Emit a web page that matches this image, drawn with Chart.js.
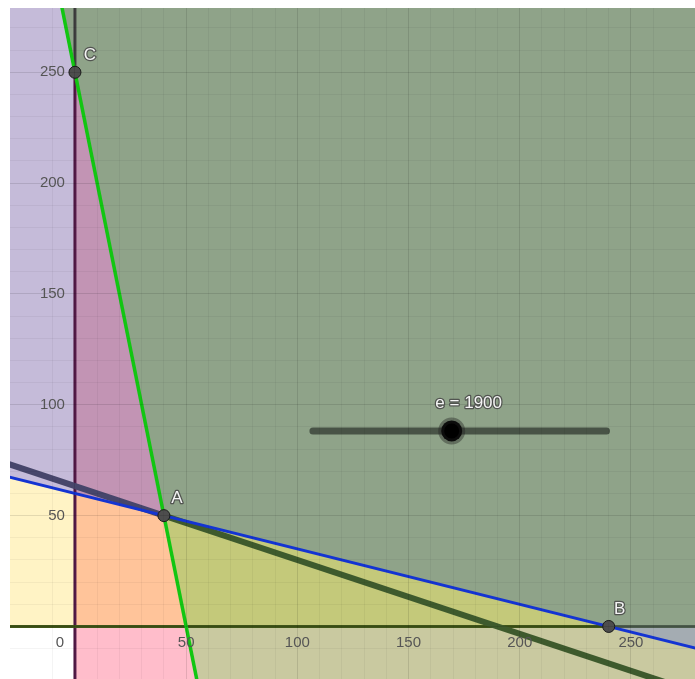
<!DOCTYPE html>
<html>
<head>
<meta charset="utf-8">
<script src="https://cdn.jsdelivr.net/npm/chart.js@4"></script>
<style>
  html, body { margin: 0; padding: 0; background: #fff; }
  canvas { display: block; }
</style>
</head>
<body>
<canvas id="chart" width="695" height="679"></canvas>
<script>
// === vista ===
const xRange = [-29.2, 278.8];
const yRange = [-23.7, 279];
const tickStep = 10;
const labelStep = 50;

// === rectas ===
// 5x + y = 250
const greenLine = [[-7, 285], [56, -30]];
// x + 4y = 240
const blueLine = [[-35, 68.75], [285, -11.25]];
// 10x + 30y = e
const objectiveLine = [[-35, 75], [40, 50], [285, -31.67]];
const xAxisLine = [[-35, 0], [240, 0], [285, 0]];
const yAxisLine = [[0, -30], [0, 250], [0, 285]];

// === regiones sombreadas ===
const regionYellow = [[-35, 0], [0, 0], [0, 60], [-35, 68.75]];
const regionLavender = [[-35, 68.75], [0, 60], [0, 250], [-7, 285], [-35, 285]];
const regionPink = [[0, 0], [50, 0], [56, -30], [0, -30]];
const regionKhaki = [[50, 0], [240, 0], [285, -11.25], [285, -30], [56, -30]];
const regionSteel = [[240, 0], [285, 0], [285, -11.25]];
const regionOrange = [[0, 0], [50, 0], [40, 50], [0, 60]];
const regionMauve = [[0, 60], [40, 50], [0, 250]];
const regionOliveYellow = [[50, 0], [240, 0], [40, 50]];
const regionOlive = [[0, 250], [40, 50], [240, 0], [285, 0], [285, 285], [-7, 285]];

// === puntos ===
const pointNames = ['A', 'B', 'C'];
const pointX = [40, 240, 0];
const pointY = [50, 0, 250];

// === deslizador ===
const sliderName = 'e';
const sliderValue = 1900;
const sliderTrack = [[107, 88.2], [239, 88.2]];
const sliderKnob = [169.4, 88.2];

// estilos de etiquetas (px)
const labelOffsets = [[13, -17], [11, -17], [15, -17]];
const sliderLabelOffset = [17, -28];
const tickFont = '15px "Liberation Sans", Arial, sans-serif';

const toPts = arr => arr.map(([x, y]) => ({ x, y }));

const region = (vertices, color) => ({
  data: toPts(vertices),
  fill: 'shape',
  backgroundColor: color,
  borderColor: color,
  borderWidth: 1,
  pointRadius: 0,
  clip: 0,
  order: 50
});

const line = (vertices, color, width, order, extra) => Object.assign({
  data: toPts(vertices),
  fill: false,
  borderColor: color,
  borderWidth: width,
  pointRadius: 0,
  clip: 0,
  order: order
}, extra || {});

const gridColor = (ctx) => {
  const v = ctx.tick.value;
  if (v % labelStep === 0) return 'rgba(0,0,0,0.11)';
  if (v % tickStep === 0) return 'rgba(0,0,0,0.045)';
  return 'transparent';
};
const isLabelTick = (v) => v % labelStep === 0 && v !== 0;

// textos: marcas de los ejes, origen, nombres de puntos, deslizador
const labelsPlugin = {
  id: 'labels',
  afterDraw(chart) {
    const { ctx, scales: { x, y } } = chart;
    const x0 = x.getPixelForValue(0);
    const y0 = y.getPixelForValue(0);
    ctx.save();
    ctx.font = tickFont;
    ctx.fillStyle = '#555';
    ctx.textBaseline = 'middle';

    ctx.textAlign = 'center';
    x.ticks.filter(t => isLabelTick(t.value)).forEach(t => {
      ctx.fillText(String(t.value), x.getPixelForValue(t.value), y0 + 16);
    });
    ctx.fillText('0', x0 - 15, y0 + 16);

    ctx.textAlign = 'right';
    y.ticks.filter(t => isLabelTick(t.value)).forEach(t => {
      ctx.fillText(String(t.value), x0 - 10, y.getPixelForValue(t.value));
    });

    const outlined = (text, px, py) => {
      ctx.lineWidth = 2.5;
      ctx.strokeStyle = 'rgba(70,70,70,0.85)';
      ctx.lineJoin = 'round';
      ctx.strokeText(text, px, py);
      ctx.fillStyle = '#f4f4f4';
      ctx.fillText(text, px, py);
    };
    ctx.textAlign = 'center';
    ctx.font = '17px "Liberation Sans", Arial, sans-serif';
    pointNames.forEach((name, i) => {
      outlined(name,
        x.getPixelForValue(pointX[i]) + labelOffsets[i][0],
        y.getPixelForValue(pointY[i]) + labelOffsets[i][1]);
    });
    outlined(sliderName + ' = ' + sliderValue,
      x.getPixelForValue(sliderKnob[0]) + sliderLabelOffset[0],
      y.getPixelForValue(sliderKnob[1]) + sliderLabelOffset[1]);
    ctx.restore();
  }
};

const axisOptions = (range) => ({
  type: 'linear',
  min: range[0],
  max: range[1],
  border: { display: false },
  grid: { color: gridColor, drawTicks: false, z: 1 },
  ticks: { display: false, stepSize: tickStep, autoSkip: false, maxTicksLimit: 1000 }
});

new Chart(document.getElementById('chart'), {
  type: 'line',
  data: {
    datasets: [
      region(regionYellow, '#fff3c5'),
      region(regionLavender, '#c5bbd9'),
      region(regionPink, '#ffbdcb'),
      region(regionKhaki, '#c9c9a0'),
      region(regionSteel, '#a4acb2'),
      region(regionOrange, '#ffc49a'),
      region(regionMauve, '#c294b4'),
      region(regionOliveYellow, '#c4c97a'),
      region(regionOlive, '#8fa389'),

      line(xAxisLine, '#3f5518', 3, 40, {
        segment: { borderColor: c => c.p0.parsed.x >= 240 ? '#4c5c4c' : '#3f5518' }
      }),
      line(yAxisLine, '#551a48', 3, 40, {
        segment: { borderColor: c => c.p0.parsed.y >= 250 ? '#404040' : '#551a48' }
      }),
      line(objectiveLine, '#3e5a2d', 6, 30, {
        segment: { borderColor: c => c.p0.parsed.x < 40 ? '#47466b' : '#3e5a2d' }
      }),
      line(blueLine, '#1434d2', 3, 20),
      line(greenLine, '#12c612', 3.5, 10),

      line(sliderTrack, 'rgba(45,52,45,0.72)', 7, 5, { borderCapStyle: 'round' }),
      {
        data: toPts([sliderKnob]),
        showLine: false,
        pointRadius: 10.5,
        pointBackgroundColor: '#000',
        pointBorderColor: 'rgba(30,30,30,0.4)',
        pointBorderWidth: 6,
        clip: 0,
        order: 4
      },
      {
        data: pointX.map((v, i) => ({ x: v, y: pointY[i] })),
        showLine: false,
        pointRadius: 6,
        pointBackgroundColor: '#4d4d4d',
        pointBorderColor: '#1a1a1a',
        pointBorderWidth: 1,
        clip: 0,
        order: 1
      }
    ]
  },
  options: {
    responsive: false,
    animation: false,
    events: [],
    layout: { autoPadding: false, padding: { left: 10, top: 8, right: 0, bottom: 0 } },
    plugins: { legend: { display: false }, tooltip: { enabled: false } },
    scales: {
      x: axisOptions(xRange),
      y: axisOptions(yRange)
    }
  },
  plugins: [labelsPlugin]
});
</script>
</body>
</html>
